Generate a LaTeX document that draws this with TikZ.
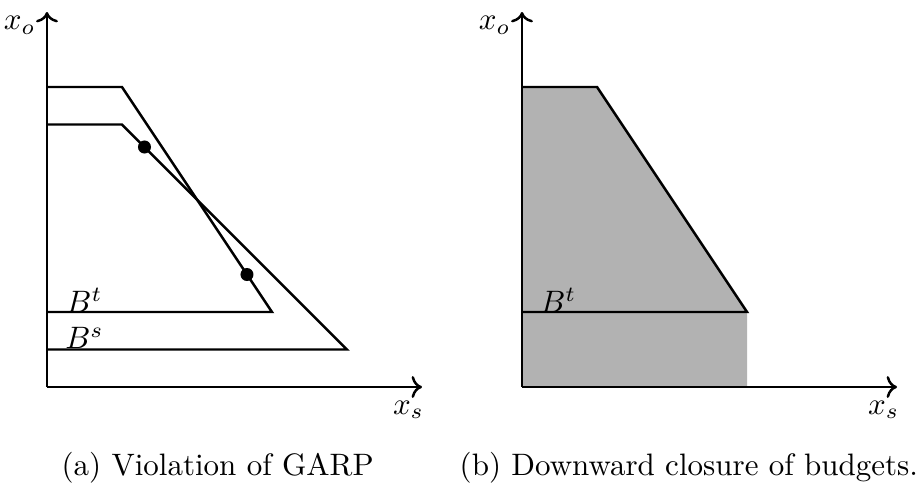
\documentclass[tikz,border=0pt]{standalone}
\usetikzlibrary{arrows.meta}
\begin{document}
\begin{tikzpicture}[x=0.425cm, y=0.425cm, thick,
    choice/.style={circle, fill=black, inner sep=0pt, minimum size=4.2pt},
    caption/.style={anchor=base}]
  \useasboundingbox (-1.253,-2.613) rectangle (23.333,10.32);

  % (a) two budgets and two choices
  \coordinate (oa) at (0,0);
  \coordinate (ya) at (0,10);
  \coordinate (xa) at (10,0);
  \draw (0,8) -- (2,8) -- (6,2) -- (0,2);
  \draw (0,7) -- (2,7) -- (8,1) -- (0,1);
  \node[choice] (ct) at (5.333,3) {};
  \node[choice] (cs) at (2.6,6.4) {};
  \node (bt) at (1,2.32) {$B^t$};
  \node (bs) at (1,1.3) {$B^s$};
  \draw[->] (oa) -- (ya);
  \draw[->] (oa) -- (xa);
  \node (xoa) [anchor=east] at (0,9.65) {$x_o$};
  \node (xsa) at (9.64,-0.61) {$x_s$};
  \node[caption] (capa) at (4.55,-2.37) {(a) Violation of GARP};

  % (b) downward closure
  \begin{scope}[shift={(12.667,0)}]
    \coordinate (ob) at (0,0);
    \coordinate (yb) at (0,10);
    \coordinate (xb) at (10,0);
    \fill[gray!60] (0,0) -- (0,8) -- (2,8) -- (6,2) -- (6,0) -- cycle;
    \draw (0,8) -- (2,8) -- (6,2) -- (0,2);
    \node (btb) at (0.97,2.32) {$B^t$};
    \draw[->] (ob) -- (yb);
    \draw[->] (ob) -- (xb);
    \node (xob) [anchor=east] at (0,9.65) {$x_o$};
    \node (xsb) at (9.64,-0.61) {$x_s$};
    \node[caption] (capb) at (4.45,-2.37) {(b) Downward closure of budgets.};
  \end{scope}
\end{tikzpicture}
\end{document}
